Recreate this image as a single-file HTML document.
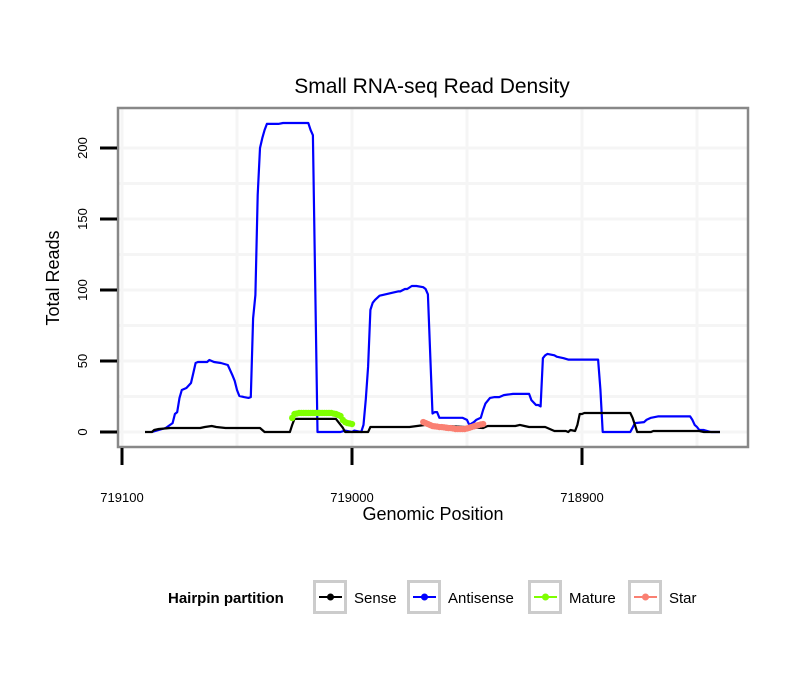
<!DOCTYPE html>
<html><head><meta charset="utf-8"><style>
body{margin:0;background:#fff;}
svg text{font-family:"Liberation Sans",sans-serif;}
</style></head><body>
<svg id="chart" width="810" height="690" viewBox="0 0 810 690" xmlns="http://www.w3.org/2000/svg">
<rect width="810" height="690" fill="#fff"/>
<text x="432" y="93" font-size="21" text-anchor="middle">Small RNA-seq Read Density</text>
<g id="grid"></g>
<g id="series"></g>
<rect x="118" y="108" width="630" height="339" fill="none" stroke="#888" stroke-width="2.5"/>
<g id="axes"></g>
<text x="433" y="520" font-size="18" text-anchor="middle">Genomic Position</text>
<text transform="translate(59,278) rotate(-90)" font-size="18" text-anchor="middle">Total Reads</text>
<g id="legend">
<text x="168" y="603" font-size="15" font-weight="bold">Hairpin partition</text>
</g>
</svg>
<script>
const xTicks=[719100,719000,718900];
const xMinor=[719050,718950,718850];
const yTicks=[0,50,100,150,200];
const yMinor=[25,75,125,175];
const senseX=[719090,719087,719086,719084,719079,719066,719064,719061,719059,719055,719040,719038,719027,719026,719025,719007,719004,719003,718993,718992,718988,718975,718968,718943,718941,718929,718927,718925,718923,718916,718914,718912,718907,718906,718905,718903,718902,718901,718900,718899,718879,718878,718877,718876,718870,718869,718849,718847,718840];
const senseY=[0,0,1.4,2.1,2.8,2.8,3.5,4.2,3.5,2.8,2.8,0,0,5,9.2,9.2,3,0,0,3.5,3.5,3.5,5,2.8,4.2,4.2,5,4.2,3.5,3.5,2.1,0.7,0.7,0,1.4,0.7,5,12.7,12.7,13.4,13.4,9.9,5,0,0,0.7,0.7,0,0];
const antiX=[719087,719081,719078,719077,719076,719075,719074,719072,719070,719069,719068,719067,719063,719062,719060,719057,719054,719052,719051,719050,719049,719047,719045,719044,719043,719042,719041,719040,719039,719038,719037,719032,719030,719019,719018,719017,719015,719005,719003,719000,718999,718996,718995,718994,718993,718992,718991,718990,718988,718980,718979,718977,718976,718974,718972,718969,718968,718967,718965,718964,718963,718962,718959,718952,718950,718949,718947,718946,718944,718943,718942,718940,718938,718936,718934,718930,718923,718922,718920,718919,718918,718917,718916,718915,718912,718911,718908,718906,718893,718892,718891,718879,718878,718877,718873,718872,718870,718867,718853,718852,718851,718850,718849,718847,718844,718840];
const antiY=[0,2.8,6.3,12.7,14,24,29.6,31,34.5,41.5,48.6,49.3,49.3,50.7,49.3,48.6,47.2,40,36,29.6,25.4,24.6,24,24.6,80,96.5,167,200,207,212.7,217,217,217.6,217.6,212.7,209,0,0,1,0,1,0,5,23,46,86,91,93,96,99,99,100.7,100.7,102.8,102.8,102,100.7,97,13,14,14,10,10,10,8.5,5,7,8.5,10,15.5,20,24,24.6,24.6,26,26.8,26.8,22.5,19,19,18,52,54,55,54,53,52,51,51,30,0,0,3,6.3,7,8.5,10,11,11,8.5,5,3.5,1.4,1.4,0,0];
const matureX=[719026,719025,719024,719023,719022,719021,719020,719019,719018,719017,719016,719015,719014,719013,719012,719011,719010,719009,719008,719007,719006,719005,719004,719003,719002,719001,719000];
const matureY=[9.9,12.7,13,13.4,13.4,13.4,13.4,13.4,13.4,13.4,13.4,13.4,13.4,13.4,13.4,13.4,13.4,13.4,13,12.7,12,11.3,8.5,7,6.3,6,5.6];
const starX=[718969,718968,718967,718966,718965,718964,718963,718962,718961,718960,718959,718958,718957,718956,718955,718954,718953,718952,718951,718950,718949,718948,718947,718946,718945,718944,718943];
const starY=[7,6.3,5.6,4.9,4.2,4,3.8,3.5,3.5,3.3,3,2.8,2.8,2.5,2.1,2.1,2.1,2.1,2.1,2.5,3,3.5,4,4.5,4.9,5.3,5.6];
const seriesNames=["Sense","Antisense","Mature","Star"];
const seriesColors=["#000000","#0000ff","#7fff00","#fa8072"];

const NS="http://www.w3.org/2000/svg";
const X0=122,XPX=2.3,Y0=432,YPX=1.42;
function sx(p){return X0+(719100-p)*XPX;}
function sy(v){return Y0-v*YPX;}
function mk(tag,attrs,parent){const e=document.createElementNS(NS,tag);for(const k in attrs)e.setAttribute(k,attrs[k]);parent.appendChild(e);return e;}
const grid=document.getElementById('grid'),axes=document.getElementById('axes'),series=document.getElementById('series'),legend=document.getElementById('legend');
mk('rect',{x:118,y:108,width:630,height:339,fill:'#fff'},grid);
yMinor.concat(yTicks).forEach(v=>{const l=mk('line',{x1:118,x2:748,y1:sy(v),y2:sy(v),stroke:'#f5f5f5','stroke-width':3},grid);

});
xMinor.concat(xTicks).forEach(p=>{const l=mk('line',{x1:sx(p),x2:sx(p),y1:108,y2:447,stroke:'#f5f5f5','stroke-width':3},grid);

});
yTicks.forEach(v=>{const t=mk('line',{x1:100,x2:117,y1:sy(v),y2:sy(v),stroke:'#000','stroke-width':3},axes);


const tx=mk('text',{transform:`translate(87,${sy(v)}) rotate(-90)`,'font-size':13,'text-anchor':'middle'},axes);tx.textContent=v;

});
xTicks.forEach(p=>{const t=mk('line',{x1:sx(p),x2:sx(p),y1:448,y2:465,stroke:'#000','stroke-width':3},axes);


const tx=mk('text',{x:sx(p),y:502,'font-size':13,'text-anchor':'middle'},axes);tx.textContent=p;

});
function line(xs,ys,color,name,pts){
 const d=xs.map((p,i)=>(i?'L':'M')+sx(p).toFixed(1)+','+sy(ys[i]).toFixed(1)).join('');
 const pth=mk('path',{d:d,fill:'none',stroke:color,'stroke-width':pts?3:2.2,'stroke-linejoin':'round'},series);
 
 
 if(pts)xs.forEach((p,i)=>{const c=mk('circle',{cx:sx(p),cy:sy(ys[i]),r:3.2,fill:color},series);
 
 });
}
line(antiX,antiY,seriesColors[1],'antisense',false);
line(senseX,senseY,seriesColors[0],'sense',false);
line(matureX,matureY,seriesColors[2],'mature',true);
line(starX,starY,seriesColors[3],'star',true);
const boxX=[313,407,528,628],labX=[354,448,569,669];
seriesNames.forEach((n,i)=>{
 const g=mk('g',{},legend);
 
 
 mk('rect',{x:boxX[i]+1.5,y:581.5,width:31,height:31,fill:'#fff',stroke:'#ccc','stroke-width':3},g);
 mk('line',{x1:boxX[i]+6,x2:boxX[i]+29,y1:597,y2:597,stroke:seriesColors[i],'stroke-width':2},g);
 mk('circle',{cx:boxX[i]+17.5,cy:597,r:3.5,fill:seriesColors[i]},g);
 const t=mk('text',{x:labX[i],y:603,'font-size':15},g);t.textContent=n;
});
</script>
</body></html>
